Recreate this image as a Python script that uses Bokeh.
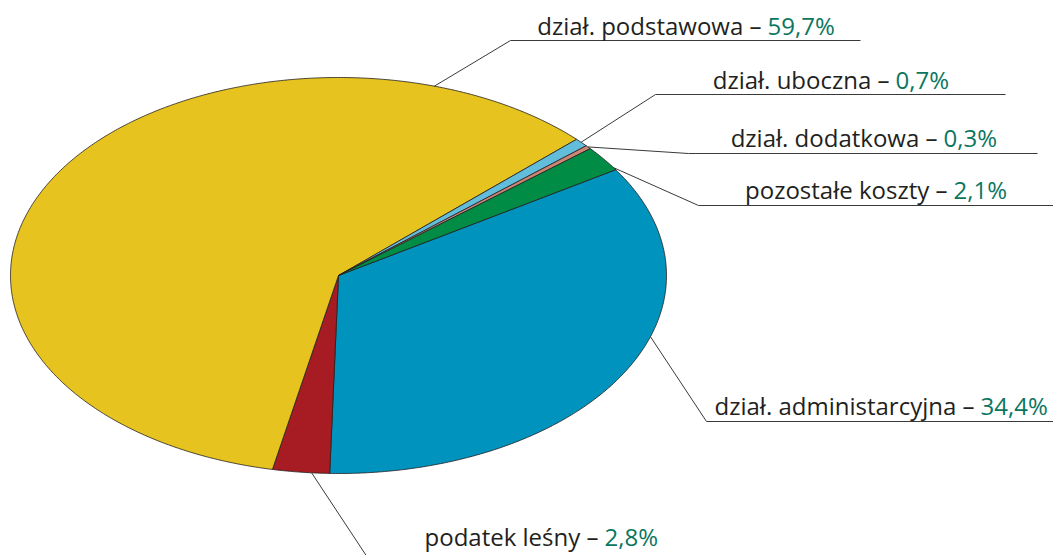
import numpy as np
from bokeh.plotting import figure
from bokeh.models import Range1d, ColumnDataSource
from bokeh.embed import file_html
from bokeh.resources import INLINE
from bokeh.core.properties import value

# ---------------- data ----------------
categories = ["dział. administarcyjna", "podatek leśny", "dział. podstawowa",
              "dział. uboczna", "dział. dodatkowa", "pozostałe koszty"]
shares = [34.4, 2.8, 59.7, 0.7, 0.3, 2.1]
pct_labels = ["34,4%", "2,8%", "59,7%", "0,7%", "0,3%", "2,1%"]

# ---------------- styles / layout ----------------
colors = ["#0093BE", "#A61C22", "#E6C31E", "#62BDDB", "#C98674", "#008C45"]
FONT = "Open Sans"
FS = "24px"
TXT = "#231F20"
PCT = "#0B7660"
TEXT_DY = -8

CX, CY, RX, RY = 338.0, 275.0, 328.0, 198.0   # ellipse centre/radii (pixel space)
START = 32.3                                   # deg, slices run clockwise

# leader anchors (angle on ellipse), kink point, underline end, percent x, baseline
anchor_deg = [-18.0, -94.7, 73.0, 42.3, 40.5, 33.0]
kink_x = [706, 369, 510, 655, 688, 698]
kink_y = [421, 560, 40, 94, 153, 205]
line_end = [1053, 700, 860, 1005, 1037, 1053]
pct_x = [980, 604, 767, 895, 943, 953]
base_y = [413, 544, 33, 87, 145, 197]

W, H = 1053, 555
p = figure(width=W, height=H, output_backend="svg", toolbar_location=None,
           x_range=Range1d(0, W), y_range=Range1d(H, 0),
           min_border=0)
p.axis.visible = False
p.grid.visible = False
p.outline_line_color = None
p.background_fill_color = "white"

# slices as polygons computed from the shares
xs, ys = [], []
a0 = START
for s in shares:
    a1 = a0 - s * 3.6
    n = max(4, int(abs(a1 - a0) * 2))
    t = np.radians(np.linspace(a0, a1, n))
    xs.append([CX] + list(CX + RX * np.cos(t)) + [CX])
    ys.append([CY] + list(CY - RY * np.sin(t)) + [CY])
    a0 = a1

src = ColumnDataSource(dict(xs=xs, ys=ys, color=colors, cat=categories))
p.patches("xs", "ys", source=src, fill_color="color", line_color="#231F20",
          line_width=0.8)

# leader lines
lx, ly = [], []
for ang, kx, ky, le in zip(anchor_deg, kink_x, kink_y, line_end):
    t = np.radians(ang)
    sx, sy = CX + RX * np.cos(t), CY - RY * np.sin(t)
    lx.append([sx, kx, le])
    ly.append([sy, ky, ky])
p.multi_line(lx, ly, line_color="#3a3a3a", line_width=1)

# labels
lab_src = ColumnDataSource(dict(
    x=[px - 6 for px in pct_x], y=base_y,
    text=[c + " –" for c in categories]))
p.text("x", "y", text="text", source=lab_src, text_font=value(FONT),
       text_font_size=FS, text_color=TXT, text_align="right",
       text_baseline="alphabetic", y_offset=TEXT_DY)
pct_src = ColumnDataSource(dict(x=pct_x, y=base_y, text=pct_labels))
p.text("x", "y", text="text", source=pct_src, text_font=value(FONT),
       text_font_size=FS, text_color=PCT, text_align="left",
       text_baseline="alphabetic", y_offset=TEXT_DY)

open("out.html", "w").write(file_html(p, INLINE))
